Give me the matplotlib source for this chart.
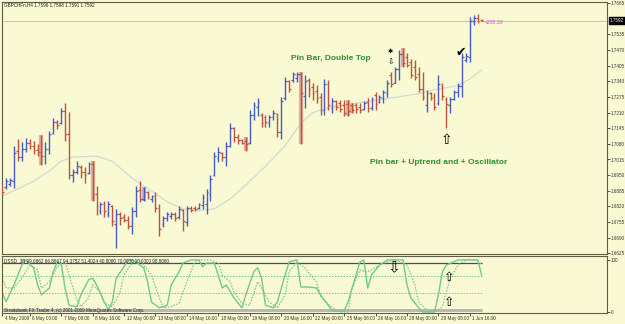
import matplotlib
matplotlib.use("Agg")
import matplotlib.pyplot as plt
import matplotlib.transforms as mtransforms

# ---------------- data ----------------
opens = [1.6905, 1.6900, 1.6915, 1.6925, 1.7050, 1.7025, 1.7060, 1.7085, 1.7070, 1.7055,
         1.7045, 1.7030, 1.7060, 1.7125, 1.7170, 1.7165, 1.7215, 1.7120, 1.6950, 1.6965,
         1.6985, 1.6965, 1.6960, 1.6995, 1.6870, 1.6800, 1.6830, 1.6790, 1.6820, 1.6745,
         1.6790, 1.6775, 1.6765, 1.6740, 1.6800, 1.6890, 1.6850, 1.6880, 1.6850, 1.6865,
         1.6815, 1.6745, 1.6770, 1.6780, 1.6790, 1.6775, 1.6805, 1.6755, 1.6815, 1.6815,
         1.6812, 1.6825, 1.6830, 1.6870, 1.6950, 1.7020, 1.7040, 1.7025, 1.7070, 1.7145,
         1.7110, 1.7095, 1.7090, 1.7085, 1.7200, 1.7235, 1.7200, 1.7190, 1.7165, 1.7190,
         1.7205, 1.7130, 1.7270, 1.7340, 1.7345, 1.7355, 1.7370, 1.7280, 1.7345, 1.7315,
         1.7300, 1.7275, 1.7220, 1.7330, 1.7230, 1.7260, 1.7250, 1.7240, 1.7245, 1.7240,
         1.7240, 1.7235, 1.7225, 1.7255, 1.7230, 1.7285, 1.7255, 1.7270, 1.7290, 1.7365,
         1.7335, 1.7390, 1.7455, 1.7440, 1.7420, 1.7400, 1.7370, 1.7310, 1.7240, 1.7290,
         1.7275, 1.7250, 1.7320, 1.7265, 1.7240, 1.7268, 1.7295, 1.7320, 1.7430, 1.7440,
         1.7590, 1.7605, 1.7596]
highs = [1.6913, 1.6938, 1.6938, 1.7070, 1.7099, 1.7086, 1.7103, 1.7099, 1.7090, 1.7078,
         1.7115, 1.7086, 1.7132, 1.7189, 1.7181, 1.7231, 1.7251, 1.7214, 1.6975, 1.7008,
         1.6991, 1.6983, 1.7004, 1.7008, 1.6905, 1.6839, 1.6843, 1.6843, 1.6827, 1.6810,
         1.6797, 1.6789, 1.6781, 1.6818, 1.6905, 1.6925, 1.6900, 1.6884, 1.6868, 1.6880,
         1.6831, 1.6781, 1.6797, 1.6797, 1.6797, 1.6822, 1.6810, 1.6822, 1.6822, 1.6822,
         1.6835, 1.6872, 1.6893, 1.6950, 1.7045, 1.7066, 1.7045, 1.7086, 1.7165, 1.7152,
         1.7119, 1.7099, 1.7107, 1.7222, 1.7255, 1.7272, 1.7210, 1.7202, 1.7202, 1.7222,
         1.7210, 1.7276, 1.7359, 1.7346, 1.7379, 1.7379, 1.7379, 1.7367, 1.7354, 1.7334,
         1.7326, 1.7293, 1.7350, 1.7346, 1.7272, 1.7264, 1.7264, 1.7264, 1.7264, 1.7251,
         1.7251, 1.7251, 1.7260, 1.7272, 1.7276, 1.7297, 1.7284, 1.7305, 1.7346, 1.7379,
         1.7400, 1.7470, 1.7478, 1.7458, 1.7433, 1.7429, 1.7400, 1.7379, 1.7305, 1.7297,
         1.7293, 1.7367, 1.7334, 1.7276, 1.7276, 1.7305, 1.7334, 1.7458, 1.7458, 1.7606,
         1.7614, 1.7619, 1.7598]
lows = [1.6868, 1.6893, 1.6905, 1.6897, 1.7008, 1.7008, 1.7045, 1.7058, 1.7037, 1.7029,
        1.6991, 1.6995, 1.7037, 1.7119, 1.7140, 1.7161, 1.7090, 1.6934, 1.6921, 1.6954,
        1.6938, 1.6917, 1.6954, 1.6843, 1.6785, 1.6789, 1.6777, 1.6777, 1.6740, 1.6645,
        1.6744, 1.6756, 1.6727, 1.6707, 1.6777, 1.6839, 1.6843, 1.6851, 1.6839, 1.6797,
        1.6698, 1.6736, 1.6760, 1.6769, 1.6760, 1.6769, 1.6719, 1.6740, 1.6797, 1.6802,
        1.6810, 1.6810, 1.6789, 1.6843, 1.6946, 1.7004, 1.7008, 1.6987, 1.7066, 1.7086,
        1.7078, 1.7078, 1.7049, 1.7078, 1.7181, 1.7194, 1.7152, 1.7152, 1.7152, 1.7181,
        1.7107, 1.7099, 1.7264, 1.7297, 1.7338, 1.7338, 1.7078, 1.7231, 1.7276, 1.7264,
        1.7251, 1.7202, 1.7202, 1.7222, 1.7210, 1.7222, 1.7214, 1.7194, 1.7194, 1.7210,
        1.7210, 1.7210, 1.7222, 1.7214, 1.7222, 1.7222, 1.7251, 1.7251, 1.7276, 1.7317,
        1.7334, 1.7346, 1.7400, 1.7400, 1.7354, 1.7346, 1.7297, 1.7264, 1.7214, 1.7264,
        1.7222, 1.7243, 1.7264, 1.7148, 1.7210, 1.7264, 1.7276, 1.7276, 1.7421, 1.7421,
        1.7573, 1.7581, 1.7591]
closes = [1.6880, 1.6925, 1.6930, 1.7040, 1.7025, 1.7060, 1.7085, 1.7070, 1.7055, 1.7045,
          1.7030, 1.7060, 1.7120, 1.7170, 1.7160, 1.7215, 1.7120, 1.6950, 1.6965, 1.6990,
          1.6965, 1.6950, 1.6995, 1.6870, 1.6820, 1.6830, 1.6800, 1.6830, 1.6760, 1.6790,
          1.6770, 1.6765, 1.6740, 1.6800, 1.6885, 1.6850, 1.6880, 1.6860, 1.6862, 1.6815,
          1.6725, 1.6770, 1.6790, 1.6790, 1.6770, 1.6810, 1.6760, 1.6812, 1.6805, 1.6808,
          1.6828, 1.6860, 1.6880, 1.6935, 1.7030, 1.7045, 1.7025, 1.7070, 1.7145, 1.7110,
          1.7095, 1.7085, 1.7080, 1.7200, 1.7240, 1.7255, 1.7165, 1.7170, 1.7190, 1.7210,
          1.7130, 1.7260, 1.7340, 1.7310, 1.7370, 1.7372, 1.7290, 1.7340, 1.7310, 1.7290,
          1.7270, 1.7220, 1.7330, 1.7240, 1.7260, 1.7235, 1.7225, 1.7210, 1.7215, 1.7220,
          1.7225, 1.7220, 1.7250, 1.7230, 1.7265, 1.7245, 1.7275, 1.7295, 1.7335, 1.7330,
          1.7390, 1.7455, 1.7415, 1.7410, 1.7365, 1.7360, 1.7310, 1.7275, 1.7290, 1.7270,
          1.7235, 1.7330, 1.7280, 1.7245, 1.7265, 1.7295, 1.7320, 1.7440, 1.7445, 1.7590,
          1.7605, 1.7592, 1.7592]
shaded = [10, 23, 36, 62, 76, 88, 89, 102]

ma_idx = [0, 4, 8, 12, 15, 18, 24, 28, 33, 38, 42, 46, 50, 54, 58, 62, 67, 72, 76, 79,
          83, 89, 96, 101, 106, 110, 116, 119, 122]
ma_val = [1.6864, 1.6893, 1.6925, 1.6967, 1.7008, 1.7025, 1.7029, 1.7008, 1.6938, 1.6884,
          1.6839, 1.6810, 1.6802, 1.6810, 1.6851, 1.6909, 1.6987, 1.7073, 1.7165, 1.7210,
          1.7231, 1.7247, 1.7264, 1.7276, 1.7289, 1.7305, 1.7322, 1.7350, 1.7388]

bid = 1.7592
price_ticks = [1.6625, 1.6690, 1.6755, 1.6820, 1.6885, 1.6950, 1.7015, 1.7080, 1.7145,
               1.7210, 1.7275, 1.7340, 1.7405, 1.7470, 1.7535, 1.7665]

dss_idx = [0, 1, 3, 5, 6, 8, 9, 10, 12, 13, 14, 15, 16, 17, 19, 20, 22, 23, 24, 26, 27,
           28, 29, 31, 32, 33, 34, 36, 37, 38, 40, 42, 43, 45, 46, 48, 50, 51, 52, 54, 56,
           57, 59, 61, 62, 64, 65, 66, 67, 69, 70, 72, 73, 75, 76, 78, 80, 81, 84, 87, 88,
           91, 92, 93, 94, 96, 98, 102, 103, 104, 106, 107, 110, 111, 112, 113, 116, 119,
           121, 122]
dss_val = [36, 20, 52, 90, 100, 85, 52, 33, 46, 77, 96, 94, 46, 13, 10, 33, 62, 65, 52, 19,
           4, 19, 65, 87, 100, 100, 96, 85, 58, 19, 8, 13, 52, 77, 94, 100, 100, 87, 94, 94,
           46, 52, 27, 8, 33, 77, 85, 65, 13, 8, 19, 71, 96, 100, 48, 48, 46, 33, 2, 2,
           19, 96, 100, 46, 71, 90, 100, 100, 52, 27, 8, 0, 0, 33, 77, 90, 100, 100, 100, 71]
sig_idx = [0, 1, 3, 5, 7, 9, 10, 12, 14, 16, 17, 19, 20, 22, 23, 25, 26, 28, 30, 31, 33,
           35, 36, 38, 40, 41, 43, 45, 47, 49, 50, 53, 55, 56, 58, 59, 61, 63, 65, 66, 68,
           70, 72, 73, 75, 77, 78, 80, 81, 84, 86, 88, 89, 91, 93, 97, 100, 103, 105, 106,
           108, 110, 112, 114, 116, 118, 121, 122]
sig_val = [65, 46, 46, 65, 90, 81, 46, 58, 87, 96, 71, 23, 10, 27, 52, 38, 17, 10, 38, 71,
           94, 100, 90, 71, 27, 8, 10, 17, 58, 96, 100, 100, 94, 71, 58, 38, 17, 13, 58, 46,
           19, 8, 33, 77, 96, 85, 75, 58, 30, 8, 0, 0, 46, 81, 77, 94, 100, 90, 52, 19,
           4, 0, 10, 65, 90, 100, 100, 90]
levels = [94, 70, 37, 4]

date_idx = [0, 7, 15, 23, 31, 39, 47, 55, 63, 71, 79, 87, 95, 103, 111, 119]
date_lbl = ["4 May 2009", "6 May 00:00", "7 May 08:00", "8 May 16:00", "12 May 00:00",
            "13 May 08:00", "14 May 16:00", "18 May 00:00", "19 May 08:00", "20 May 16:00",
            "22 May 00:00", "25 May 08:00", "26 May 16:00", "28 May 00:00", "29 May 08:00",
            "1 Jun 16:00"]

# ---------------- styles ----------------
BG = "#f9f9d3"
BLUE = "#4b5bc4"
RED = "#c0533c"
LBLUE = "#aab2de"
LRED = "#e2b09c"
FRAME = "#5e5e48"
GREEN_T = "#2f8f2f"
DSS = "#72c88e"
FONT = "Liberation Sans"
SMALL = 3.3

fig = plt.figure(figsize=(6.25, 3.24), dpi=100, facecolor=BG)
ax = fig.add_axes([2 / 625, 1 - 254 / 324, 605 / 625, 252 / 324], facecolor=BG)
ax2 = fig.add_axes([2 / 625, 1 - 313 / 324, 605 / 625, 57 / 324], facecolor=BG)

n = len(opens)
idx = list(range(n))
cols = [BLUE if c > o else RED for o, c in zip(opens, closes)]

for i in shaded:
    lc = LBLUE if closes[i] > opens[i] else LRED
    ax.vlines(i, lows[i], highs[i], color=lc, lw=3.0, zorder=2)
ax.vlines(idx, lows, highs, colors=cols, lw=1.0, zorder=3)
ax.hlines(opens, [i - 0.45 for i in idx], idx, colors=cols, lw=0.9, zorder=3)
ax.hlines(closes, idx, [i + 0.45 for i in idx], colors=cols, lw=0.9, zorder=3)

ax.plot(ma_idx, ma_val, color="#cddcd2", lw=0.9, zorder=1)
ax.axhline(bid, color="#c9c9a6", lw=0.8, zorder=0)

XMAX = 153.9
ax.set_xlim(-0.05, XMAX)
ax.set_ylim(1.6622, 1.7670)
ax.set_xticks([])
ax.yaxis.tick_right()
ax.set_yticks(price_ticks)
ax.set_yticklabels([f"{p:.4f}" for p in price_ticks], fontsize=SMALL, family=FONT)
ax.tick_params(axis="y", length=2, width=0.6, pad=1, colors="#333333", labelcolor="#333333")
for s in ax.spines.values():
    s.set_color(FRAME)
    s.set_linewidth(0.8)

trans = mtransforms.blended_transform_factory(ax.transAxes, ax.transData)
ax.text(1.0 + 3 / 605, bid, f"{bid:.4f}", transform=trans, ha="left", va="center",
        color="white", fontsize=SMALL, family=FONT, clip_on=False,
        bbox=dict(boxstyle="square,pad=0.25", fc="black", ec="black"))

ax.text(2 / 605, 1 - 3 / 252, "GBPCHFn,H4 1.7596 1.7598 1.7591 1.7592", transform=ax.transAxes,
        ha="left", va="center", fontsize=SMALL, family=FONT, color="#222222")

ax.text(73.6, 1.7437, "Pin Bar, Double Top", color=GREEN_T, fontsize=6.0, family=FONT,
        weight="bold", ha="left", va="center")
ax.text(93.7, 1.7004, "Pin bar + Uptrend and + Oscillator", color=GREEN_T, fontsize=6.0,
        family=FONT, weight="bold", ha="left", va="center")
ax.text(122.7, 1.7586, "+232.33", color="#e040e0", fontsize=3.7, family=FONT,
        ha="left", va="center")
ax.text(98.8, 1.7466, "\u2731", color="black", fontsize=4.5, ha="center", va="center")
ax.text(98.8, 1.7421, "\u21e9", color="black", fontsize=5.5, ha="center", va="center")
ax.text(113.0, 1.7095, "\u21e7", color="black", fontsize=10, ha="center", va="center")
ax.text(116.6, 1.7462, "\u2714", color="black", fontsize=9, ha="center", va="center")

# ---------------- indicator ----------------
ax2.set_xlim(-0.05, XMAX)
ax2.set_ylim(-1.9, 107.5)
ax2.hlines(levels[0], 0, n - 1, color="#3a46a0", lw=0.9)
ax2.hlines(levels[1:3], 0, n - 1, color=DSS, lw=0.7, linestyles=(0, (1.5, 1.5)))
ax2.hlines(levels[3], 0, n - 1, color="#b4b4b0", lw=2.0)
ax2.plot(sig_idx, sig_val, color=DSS, lw=0.9, ls=(0, (1.2, 1.2)))
ax2.plot(dss_idx, dss_val, color=DSS, lw=1.0)

ax2.text(99.6, 84.5, "\u21e9", color="black", fontsize=11, ha="center", va="center")
ax2.text(113.7, 67, "\u21e7", color="black", fontsize=9, ha="center", va="center")
ax2.text(113.7, 19, "\u21e7", color="black", fontsize=9, ha="center", va="center")

ax2.text(2 / 605, 1 - 4.7 / 57,
         "DSSD_3B 99.6862 66.8667 94.3752 51.4024 40.8080 70.0000 10.0000 98.8080",
         transform=ax2.transAxes, ha="left", va="center", fontsize=SMALL, family=FONT,
         color="#222222")
ax2.text(2 / 605, 2.5 / 57,
         "Straitsbank FX Trader 4, (c) 2001-2009 MetaQuotes Software Corp.",
         transform=ax2.transAxes, ha="left", va="center", fontsize=SMALL, family=FONT,
         color="#222222")

ax2.yaxis.tick_right()
ax2.set_yticks([0, 100])
ax2.set_yticklabels(["0", "100"], fontsize=SMALL, family=FONT)
ax2.tick_params(axis="y", length=2, width=0.6, pad=1, colors="#333333")
ax2.set_xticks(date_idx)
ax2.set_xticklabels(date_lbl, fontsize=SMALL, family=FONT, ha="left", color="#222222")
ax2.tick_params(axis="x", length=2, width=0.6, pad=0.5, colors="#333333")
offset = mtransforms.ScaledTranslation(2.5 / 100, 0, fig.dpi_scale_trans)
for lab in ax2.get_xticklabels():
    lab.set_transform(lab.get_transform() + offset)
for s in ax2.spines.values():
    s.set_color(FRAME)
    s.set_linewidth(0.8)

fig.savefig("out.png", dpi=100, facecolor=BG)
